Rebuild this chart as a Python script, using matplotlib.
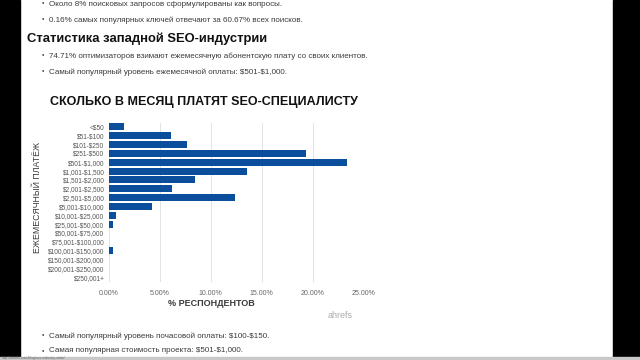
import numpy as np
import matplotlib.pyplot as plt
from matplotlib.patches import Rectangle

categories = ['<$50', '$51-$100', '$101-$250', '$251-$500', '$501-$1,000',
              '$1,001-$1,500', '$1,501-$2,000', '$2,001-$2,500', '$2,501-$5,000',
              '$5,001-$10,000', '$10,001-$25,000', '$25,001-$50,000',
              '$50,001-$75,000', '$75,001-$100,000', '$100,001-$150,000',
              '$150,001-$200,000', '$200,001-$250,000', '$250,001+']
shares = [1.55, 6.1, 7.7, 19.4, 23.4, 13.6, 8.5, 6.2, 12.4,
          4.3, 0.77, 0.4, 0.0, 0.0, 0.47, 0.0, 0.0, 0.0]
x_ticks = [0, 5, 10, 15, 20, 25]

top_lines = ['Около 8% поисковых запросов сформулированы как вопросы.',
             '0.16% самых популярных ключей отвечают за 60.67% всех поисков.']
heading = 'Статистика западной SEO-индустрии'
mid_lines = ['74.71% оптимизаторов взимают ежемесячную абонентскую плату со своих клиентов.',
             'Самый популярный уровень ежемесячной оплаты: $501-$1,000.']
bottom_lines = ['Самый популярный уровень почасовой оплаты: $100-$150.',
                'Самая популярная стоимость проекта: $501-$1,000.']

plt.rcParams['text.parse_math'] = False
plain = ['Liberation Sans', 'DejaVu Sans']

W, H = 640, 360
fig = plt.figure(figsize=(6.4, 3.6), dpi=100)
fig.patch.set_facecolor('white')

def fx(px):
    return px / W

def fy(py):
    return 1 - py / H

# dark frame of the screenshot
fig.add_artist(Rectangle((0, 0), fx(20), 1, transform=fig.transFigure, color='black'))
fig.add_artist(Rectangle((fx(613), 0), 1, 1, transform=fig.transFigure, color='black'))
fig.add_artist(Rectangle((0, 0), 1, 3.5 / H, transform=fig.transFigure, color='#c8c8c8'))
fig.text(fx(2), fy(358.3), 'http://ahrefs.com/blog/seo-industry-stats/', fontsize=2.5,
         color='#666666', va='center', family=plain)

def bullet(y, s):
    fig.text(fx(42), fy(y), '•', fontsize=5, color='#555555', va='center', family=plain)
    fig.text(fx(49), fy(y), s, fontsize=5.8, color='#3a3a3a', va='center', family=plain)

for i, s in enumerate(top_lines):
    bullet(4 + 16 * i, s)
fig.text(fx(27), fy(39), heading, fontsize=9.4, fontweight='bold', color='#111111',
         va='center', family=plain)
for i, s in enumerate(mid_lines):
    bullet(56 + 16 * i, s)
bullet(336, bottom_lines[0])
bullet(351, bottom_lines[1])

# chart
ax = fig.add_axes([fx(108.5), fy(281.5), fx(363.5) - fx(108.5), fy(122.5) - fy(281.5)])
y = np.arange(len(categories))
ax.barh(y, shares, height=0.78, color='#0b4f9c')
ax.set_ylim(len(categories) - 0.5, -0.5)
ax.set_xlim(0, 25)
ax.set_xticks(x_ticks)
ax.set_xticklabels([f'{v:.2f}%' for v in x_ticks], fontsize=5, color='#666666', family=plain)
ax.set_yticks(y)
ax.set_yticklabels(categories, fontsize=4.7, color='#555555', family=plain)
ax.tick_params(length=0, pad=3)
ax.tick_params(axis='x', pad=6)
ax.grid(axis='x', color='#e3e3e3', lw=0.7)
ax.set_axisbelow(True)
for sp in ax.spines.values():
    sp.set_visible(False)

fig.text(fx(204), fy(102), 'СКОЛЬКО В МЕСЯЦ ПЛАТЯТ SEO-СПЕЦИАЛИСТУ', fontsize=9.0,
         fontweight='bold', color='#111111', ha='center', va='center', family=plain)
fig.text(fx(37), fy(197.5), 'ЕЖЕМЕСЯЧНЫЙ ПЛАТЁЖ', fontsize=6.3, rotation=90,
         color='#3a3a3a', ha='center', va='center', family=plain)
fig.text(fx(211), fy(304), '% РЕСПОНДЕНТОВ', fontsize=6.5, fontweight='bold',
         color='#3a3a3a', ha='center', va='center', family=plain)
fig.text(fx(340), fy(316), 'ahrefs', fontsize=6.5, color='#aaaaaa', ha='center',
         va='center', family=plain)

fig.savefig('out.png', dpi=100)
